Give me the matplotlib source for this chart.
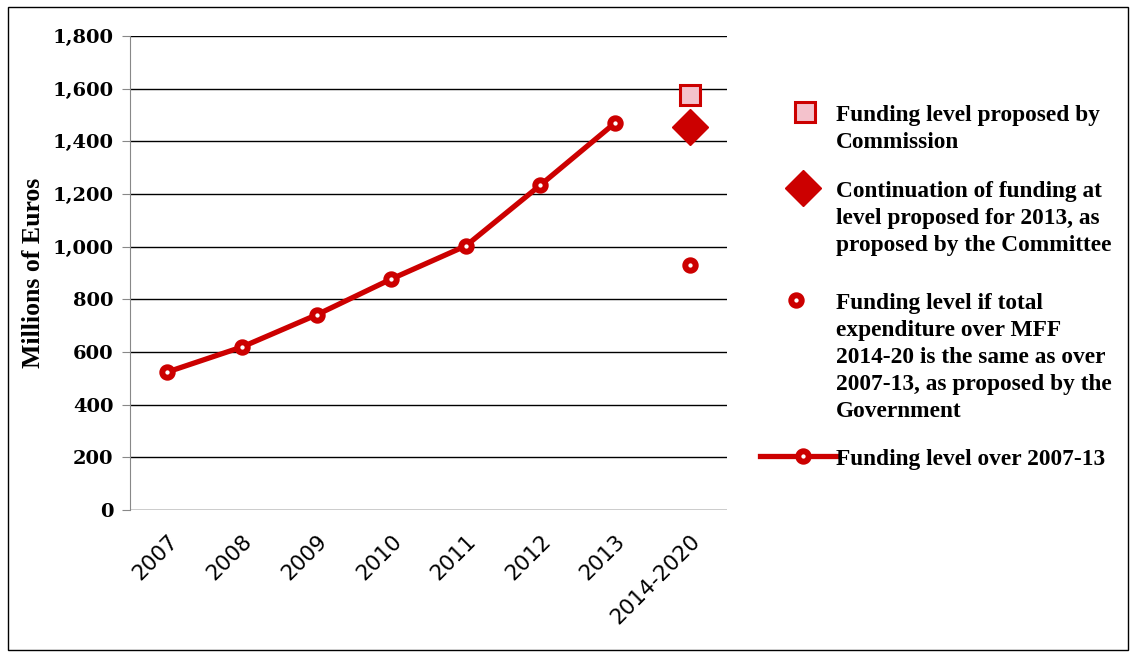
import numpy as np
import matplotlib.pyplot as plt
from matplotlib.lines import Line2D
from matplotlib.patches import Rectangle

plt.rcParams['font.family'] = ['Liberation Serif', 'DejaVu Serif']
plt.rcParams['font.weight'] = 'bold'

years = ['2007', '2008', '2009', '2010', '2011', '2012', '2013', '2014-2020']
funding = [524, 619, 741, 877, 1003, 1234, 1470]
commission = 1576
committee = 1455
government = 930

legend_labels = [
    ['Funding level proposed by', 'Commission'],
    ['Continuation of funding at', 'level proposed for 2013, as', 'proposed by the Committee'],
    ['Funding level if total', 'expenditure over MFF', '2014-20 is the same as over',
     '2007-13, as proposed by the', 'Government'],
    ['Funding level over 2007-13'],
]

red = '#cc0000'
W, H = 1131, 655

fig = plt.figure(figsize=(W / 100, H / 100), dpi=100)
ax = fig.add_axes([130 / W, 1 - 510 / H, 597 / W, 474 / H])

ring = dict(marker='o', ms=7.5, mfc='white', mec=red, mew=4.3)
square = dict(marker='s', ms=14.5, mfc='#f4c2cc', mec=red, mew=2.2)
diamond = dict(marker='D', ms=18, mfc=red, mec=red)

x = np.arange(len(years))
ax.plot(x[:7], funding, color=red, lw=3.8, zorder=3, **ring)
ax.plot(x[7], commission, ls='none', zorder=3, **square)
ax.plot(x[7], committee, ls='none', zorder=3, **diamond)
ax.plot(x[7], government, ls='none', zorder=3, **ring)

ax.set_xlim(-0.5, 7.5)
ax.set_ylim(0, 1800)
ax.set_yticks(np.arange(0, 1801, 200))
ax.set_yticklabels([f'{v:,}' for v in range(0, 1801, 200)], fontsize=14,
                   family='DejaVu Serif', fontweight='bold')
ax.set_xticks(x)
ax.set_xticklabels(years, rotation=45, ha='right', rotation_mode='anchor', fontsize=15.5,
                   family='DejaVu Sans', fontweight='normal')
ax.tick_params(axis='x', length=0, pad=15)
ax.tick_params(axis='y', length=6, color='#888888', pad=6)
ax.grid(axis='y', color='black', lw=1)
ax.set_axisbelow(True)
for s in ['top', 'right', 'bottom']:
    ax.spines[s].set_visible(False)
ax.spines['left'].set_color('#888888')
ax.set_ylabel('Millions of Euros', fontsize=18.5, fontweight='bold', labelpad=5)

# legend drawn by hand: handles aligned with the first line of each label
def fx(px):
    return px / W

def fy(py):
    return 1 - py / H

handle_y = [112, 188, 300, 456]
handle_x = [805, 803, 796, 803]
styles = [square, diamond, ring, ring]
for i, lines in enumerate(legend_labels):
    st = styles[i]
    if i == 3:
        fig.add_artist(Line2D([fx(760), fx(836)], [fy(handle_y[i])] * 2, color=red, lw=3.8,
                              transform=fig.transFigure))
    fig.add_artist(Line2D([fx(handle_x[i])], [fy(handle_y[i])], ls='none',
                          transform=fig.transFigure, **st))
    for j, line in enumerate(lines):
        fig.text(fx(836), fy(handle_y[i] + 1 + j * 27), line, fontsize=16.8,
                 va='center_baseline', ha='left')

fig.patches.append(Rectangle((0.007, 0.008), 0.99, 0.982, transform=fig.transFigure,
                             fill=False, ec='black', lw=1))

fig.savefig('out.png', dpi=100)
